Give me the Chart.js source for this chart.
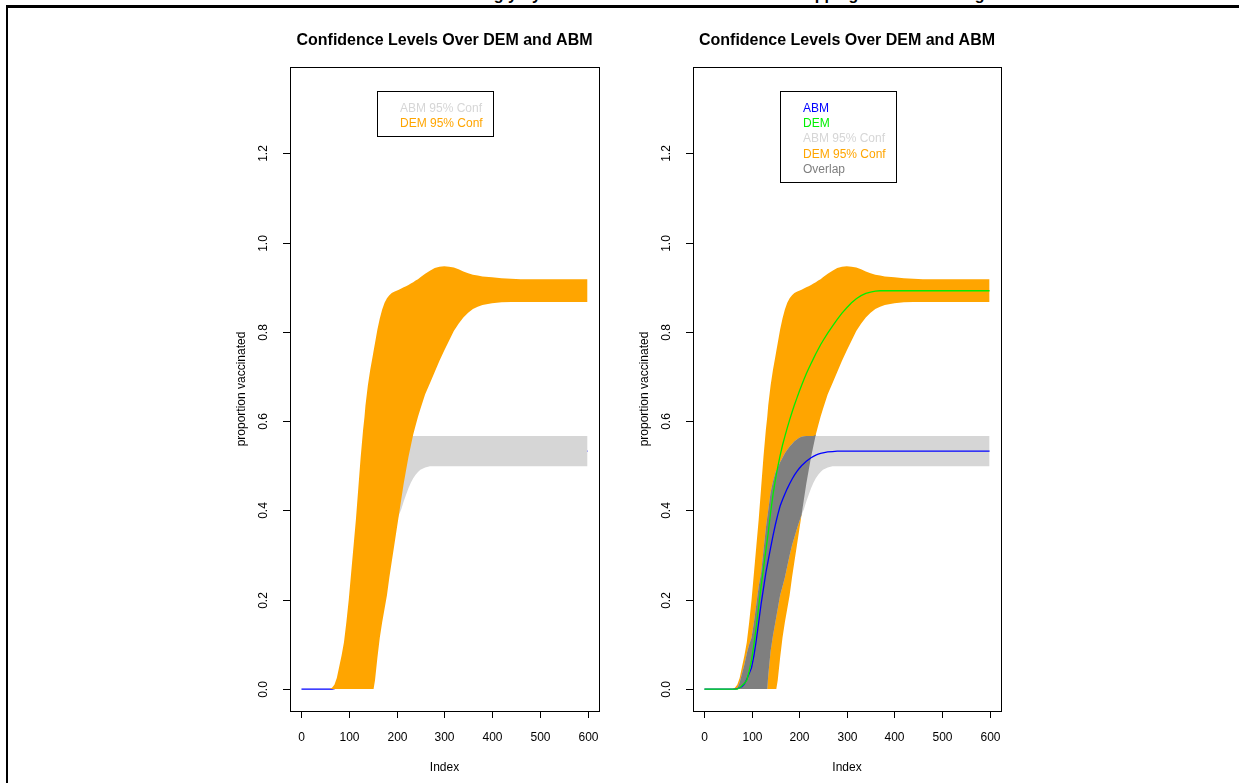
<!DOCTYPE html>
<html><head><meta charset="utf-8">
<script src="https://cdn.jsdelivr.net/npm/chart.js@4/dist/chart.umd.min.js"></script>
<style>
html,body{margin:0;padding:0;background:#fff;overflow:hidden;width:1239px;height:783px;position:relative;}
#c1{position:absolute;left:0;top:0;}
#c2{position:absolute;left:620px;top:0;}
#topline{position:absolute;left:6px;top:5px;width:1233px;height:3px;background:#000;}
#leftline{position:absolute;left:6px;top:5px;width:2px;height:778px;background:#000;}
#suptitle{position:absolute;top:-15px;left:452px;white-space:nowrap;font:bold 16px/20px "Liberation Sans",Arial,sans-serif;color:#000;}
</style></head>
<body>
<div id="suptitle">Strongly Synchronized Network Seeded: Overlapping Cluster Seeding</div>
<div id="topline"></div><div id="leftline"></div>
<canvas id="c1" width="620" height="783"></canvas>
<canvas id="c2" width="619" height="783"></canvas>
<script>
// ---- data ----
const idx = [1,20,40,60,65,70,75,80,85,90,95,100,105,110,115,120,125,130,133,135,140,145,150,152,155,160,165,170,175,180,185,190,195,200,205,210,215,220,225,230,235,240,245,250,260,270,280,290,300,310,320,330,340,350,360,370,380,400,420,440,460,500,550,600];
const demUpper = [0,0,0,0,0.003,0.01,0.025,0.05,0.075,0.105,0.15,0.2,0.26,0.32,0.38,0.45,0.52,0.58,0.61,0.635,0.68,0.715,0.745,0.757,0.775,0.805,0.83,0.85,0.865,0.875,0.882,0.887,0.89,0.892,0.894,0.897,0.9,0.902,0.905,0.908,0.911,0.915,0.918,0.922,0.93,0.937,0.943,0.946,0.947,0.946,0.944,0.94,0.935,0.931,0.928,0.926,0.924,0.922,0.92,0.919,0.918,0.918,0.918,0.918];
const demLower = [0,0,0,0,0,0,0,0,0,0,0,0,0,0,0,0,0,0,0,0,0,0,0,0,0.02,0.07,0.115,0.15,0.18,0.21,0.25,0.285,0.32,0.355,0.39,0.425,0.46,0.49,0.52,0.545,0.57,0.59,0.61,0.627,0.66,0.685,0.71,0.735,0.758,0.78,0.802,0.818,0.832,0.843,0.851,0.856,0.86,0.864,0.866,0.867,0.867,0.867,0.867,0.867];
const abmUpper = [0,0,0,0,0,0.002,0.015,0.035,0.055,0.08,0.1,0.115,0.15,0.19,0.23,0.26,0.31,0.36,0.385,0.4,0.44,0.465,0.485,0.49,0.497,0.508,0.518,0.528,0.536,0.543,0.549,0.555,0.559,0.563,0.565,0.566,0.567,0.567,0.567,0.567,0.567,0.567,0.567,0.567,0.567,0.567,0.567,0.567,0.567,0.567,0.567,0.567,0.567,0.567,0.567,0.567,0.567,0.567,0.567,0.567,0.567,0.567,0.567,0.567];
const abmLower = [0,0,0,0,0,0,0,0,0,0,0,0,0,0,0,0,0,0,0,0.03,0.085,0.12,0.15,0.162,0.18,0.21,0.23,0.25,0.275,0.3,0.322,0.34,0.358,0.375,0.39,0.403,0.42,0.435,0.45,0.462,0.472,0.48,0.486,0.491,0.496,0.499,0.499,0.499,0.499,0.499,0.499,0.499,0.499,0.499,0.499,0.499,0.499,0.499,0.499,0.499,0.499,0.499,0.499,0.499];
const abmMean = [0,0,0,0,0,0.001,0.003,0.006,0.012,0.022,0.035,0.048,0.075,0.11,0.15,0.19,0.225,0.26,0.277,0.288,0.316,0.343,0.368,0.377,0.39,0.41,0.424,0.437,0.449,0.46,0.47,0.479,0.487,0.494,0.5,0.505,0.51,0.514,0.518,0.521,0.524,0.526,0.528,0.529,0.531,0.532,0.533,0.533,0.533,0.533,0.533,0.533,0.533,0.533,0.533,0.533,0.533,0.533,0.533,0.533,0.533,0.533,0.533,0.533];
const demMean = [0,0,0,0,0,0,0.003,0.008,0.013,0.02,0.04,0.065,0.1,0.14,0.185,0.23,0.27,0.31,0.334,0.35,0.395,0.435,0.468,0.48,0.497,0.523,0.546,0.566,0.585,0.603,0.62,0.636,0.651,0.666,0.68,0.693,0.706,0.718,0.729,0.74,0.751,0.761,0.771,0.78,0.797,0.813,0.828,0.842,0.854,0.865,0.874,0.881,0.886,0.889,0.891,0.892,0.892,0.892,0.892,0.892,0.892,0.892,0.892,0.892];
const xTicks = [0,100,200,300,400,500,600];
const yTicks = [0.0,0.2,0.4,0.6,0.8,1.0,1.2];
const plotTitle = 'Confidence Levels Over DEM and ABM';
const xTitle = 'Index';
const yTitle = 'proportion vaccinated';
const legend1Labels = ['ABM 95% Conf','DEM 95% Conf'];
const legend1Colors = ['#D6D6D6','#FFA500'];
const legend2Labels = ['ABM','DEM','ABM 95% Conf','DEM 95% Conf','Overlap'];
const legend2Colors = ['#0000FF','#00F000','#D6D6D6','#FFA500','#7F7F7F'];

// overlap region derived from the two bands
const ovLower = idx.map((_, i) => Math.max(abmLower[i], demLower[i]));
const ovUpper = idx.map((_, i) => Math.max(ovLower[i], Math.min(abmUpper[i], demUpper[i])));

const pts = arr => idx.map((v, i) => ({x: v, y: arr[i]}));
const FONT = '"Liberation Sans", Arial, sans-serif';

const rPlot = {
  id: 'rPlot',
  afterDraw(chart, args, opts) {
    const {ctx, chartArea: a, scales: {x, y}} = chart;
    ctx.save();
    ctx.strokeStyle = '#000'; ctx.lineWidth = 1;
    const L = Math.round(a.left), R = Math.round(a.right), T = Math.round(a.top), B = Math.round(a.bottom);
    ctx.strokeRect(L + 0.5, T + 0.5, R - L, B - T);
    const seg = (x1, y1, x2, y2) => { ctx.beginPath(); ctx.moveTo(x1, y1); ctx.lineTo(x2, y2); ctx.stroke(); };
    ctx.fillStyle = '#000';
    ctx.font = '12px ' + FONT;
    ctx.textAlign = 'center'; ctx.textBaseline = 'middle';
    xTicks.forEach(v => {
      const px = Math.round(x.getPixelForValue(v)) + 0.5;
      seg(px, B, px, B + 7);
      ctx.fillText(String(v), px, B + 27);
    });
    ctx.fillText(xTitle, (a.left + a.right) / 2, B + 57);
    yTicks.forEach(v => {
      const py = Math.round(y.getPixelForValue(v)) + 0.5;
      seg(L - 7, py, L, py);
      ctx.save(); ctx.translate(L - 26, py); ctx.rotate(-Math.PI / 2);
      ctx.fillText(v.toFixed(1), 0, 0); ctx.restore();
    });
    ctx.save(); ctx.translate(L - 48, (a.top + a.bottom) / 2); ctx.rotate(-Math.PI / 2);
    ctx.fillText(yTitle, 0, 0); ctx.restore();
    ctx.font = 'bold 16px ' + FONT;
    ctx.fillText(plotTitle, (a.left + a.right) / 2, 41);
    // legend
    const labels = opts.labels, colors = opts.colors;
    const lx = L + 87, ly = 91, lw = 116, lh = 14 + 15.3 * labels.length;
    ctx.fillStyle = '#fff'; ctx.fillRect(lx, ly, lw, lh);
    ctx.strokeStyle = '#000'; ctx.strokeRect(lx + 0.5, ly + 0.5, lw, Math.round(lh));
    ctx.font = '12px ' + FONT; ctx.textAlign = 'left';
    labels.forEach((t, k) => { ctx.fillStyle = colors[k]; ctx.fillText(t, lx + 23, ly + 17.5 + 15.3 * k); });
    ctx.restore();
  }
};

function band(data, color, fillTarget, order) {
  return {data: pts(data), borderColor: 'transparent', borderWidth: 0, backgroundColor: color,
          fill: fillTarget, order: order, pointRadius: 0};
}
function line(data, color, order) {
  return {data: pts(data), borderColor: color, borderWidth: 1.3, fill: false, order: order, pointRadius: 0};
}
function opts(padLeft, padRight, labels, colors) {
  return {
    responsive: false, animation: false, devicePixelRatio: 1,
    layout: {padding: {left: padLeft, right: padRight, top: 67, bottom: 72}},
    scales: {
      x: {type: 'linear', min: -23, max: 624, display: false},
      y: {type: 'linear', min: -0.049, max: 1.393, display: false}
    },
    elements: {line: {tension: 0}, point: {radius: 0}},
    plugins: {legend: {display: false}, tooltip: {enabled: false}, rPlot: {labels, colors}}
  };
}

new Chart(document.getElementById('c1'), {
  type: 'line',
  data: {datasets: [
    line(abmMean, '#0000FF', 3),
    band(abmUpper, '#D6D6D6', 2, 2),
    band(abmLower, '#D6D6D6', false, 2),
    band(demUpper, '#FFA500', 4, 1),
    band(demLower, '#FFA500', false, 1)
  ]},
  options: opts(290, 21, legend1Labels, legend1Colors),
  plugins: [rPlot]
});

new Chart(document.getElementById('c2'), {
  type: 'line',
  data: {datasets: [
    band(demUpper, '#FFA500', 1, 5),
    band(demLower, '#FFA500', false, 5),
    band(abmUpper, '#D6D6D6', 3, 4),
    band(abmLower, '#D6D6D6', false, 4),
    band(ovUpper, '#7F7F7F', 5, 3),
    band(ovLower, '#7F7F7F', false, 3),
    line(abmMean, '#0000FF', 2),
    line(demMean, '#00F000', 1)
  ]},
  options: opts(73, 238, legend2Labels, legend2Colors),
  plugins: [rPlot]
});
</script>
</body></html>
